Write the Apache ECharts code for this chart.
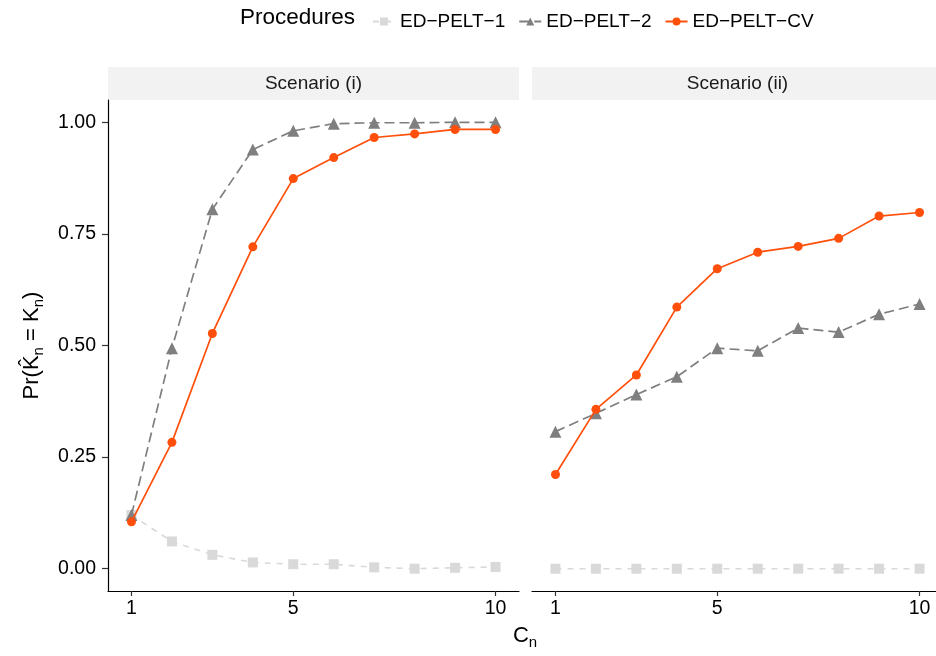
<!DOCTYPE html>
<html>
<head>
<meta charset="utf-8">
<script src="https://cdn.jsdelivr.net/npm/echarts@6/dist/echarts.min.js"></script>
<style>html,body{margin:0;padding:0;background:#fff;}#c{width:936px;height:656px;}</style>
</head>
<body>
<div id="c"></div>
<script>
const xValues = [1, 2, 3, 4, 5, 6, 7, 8, 9, 10];
const xTicks = [1, 5, 10];
const yTicks = [0, 0.25, 0.5, 0.75, 1];
const panels = ['Scenario (i)', 'Scenario (ii)'];
const seriesNames = ['ED\u2212PELT\u22121', 'ED\u2212PELT\u22122', 'ED\u2212PELT\u2212CV'];

const pelt1_i  = [0.120, 0.061, 0.031, 0.014, 0.010, 0.010, 0.003, 0.000, 0.002, 0.004];
const pelt2_i  = [0.120, 0.494, 0.805, 0.939, 0.981, 0.997, 0.999, 0.999, 1.000, 1.000];
const peltCV_i = [0.105, 0.283, 0.527, 0.721, 0.874, 0.921, 0.966, 0.974, 0.984, 0.984];

const pelt1_ii  = [0.000, 0.000, 0.000, 0.000, 0.000, 0.000, 0.000, 0.000, 0.000, 0.000];
const pelt2_ii  = [0.307, 0.348, 0.390, 0.430, 0.494, 0.488, 0.539, 0.530, 0.570, 0.593];
const peltCV_ii = [0.211, 0.357, 0.434, 0.586, 0.672, 0.709, 0.722, 0.740, 0.790, 0.798];

const FONT = '"Liberation Sans", Arial, Helvetica, sans-serif';
const pair = arr => xValues.map((x, i) => [x, arr[i]]);

const gridLeft = [108, 532];
const gridW = 411, gridTop = 100, gridH = 491;

const styles = [
  {name: seriesNames[0], color: '#d9d9d9', symbol: 'rect', size: 10, type: [6, 6], width: 1.6},
  {name: seriesNames[1], color: '#7f7f7f', symbol: 'triangle', size: 12, type: [10, 5], width: 1.7},
  {name: seriesNames[2], color: '#ff4f0a', symbol: 'circle', size: 9, type: 'solid', width: 1.7}
];
const panelData = [[pelt1_i, pelt2_i, peltCV_i], [pelt1_ii, pelt2_ii, peltCV_ii]];

const series = [];
[0, 1].forEach(p => {
  [1, 0, 2].forEach(k => {
    const s = styles[k];
    series.push({
      type: 'line', name: s.name, xAxisIndex: p, yAxisIndex: p,
      data: pair(panelData[p][k]),
      symbol: s.symbol, symbolSize: s.size, showSymbol: true,
      itemStyle: {color: s.color},
      lineStyle: {color: s.color, width: s.width, type: s.type},
      z: k + 2, animation: false
    });
  });
});

const xAxes = [0, 1].map(p => ({
  type: 'value', gridIndex: p, min: 0.42, max: 10.58,
  splitLine: {show: false},
  axisLine: {show: true, onZero: false, lineStyle: {color: '#000', width: 1.2}},
  axisTick: {show: true, length: 5, customValues: xTicks, lineStyle: {color: '#333', width: 1.2}},
  axisLabel: {customValues: xTicks, color: '#000', fontSize: 19.5, fontFamily: FONT, margin: 8}
}));

const yAxes = [0, 1].map(p => ({
  type: 'value', gridIndex: p, min: -0.05, max: 1.05,
  splitLine: {show: false},
  axisLine: {show: p === 0, onZero: false, lineStyle: {color: '#000', width: 1.2}},
  axisTick: {show: p === 0, length: 6, customValues: yTicks, lineStyle: {color: '#333', width: 1.2}},
  axisLabel: {show: p === 0, customValues: yTicks, color: '#000', fontSize: 19.5, fontFamily: FONT, margin: 12,
    formatter: v => v.toFixed(2)},
  name: p === 0 ? '{t|Pr(K\u0302}{s|n}{t| = K}{s|n}{t|)}' : '',
  nameLocation: 'middle', nameRotate: 90, nameGap: 62,
  nameTextStyle: {rich: {
    t: {fontSize: 22, fontFamily: FONT, color: '#000', lineHeight: 28, verticalAlign: 'middle'},
    s: {fontSize: 15, fontFamily: FONT, color: '#000', lineHeight: 28, verticalAlign: 'bottom', padding: [7, 0, 0, 0]}
  }}
}));

const graphics = [];
[0, 1].forEach(p => {
  graphics.push({type: 'rect', left: gridLeft[p], top: 67, shape: {width: gridW, height: 33},
    style: {fill: '#f2f2f2'}, z: 0});
  graphics.push({type: 'text', x: gridLeft[p] + gridW / 2, y: 84,
    style: {text: panels[p], font: '19px ' + FONT, fill: '#1a1a1a', textAlign: 'center', textVerticalAlign: 'middle'}});
});
graphics.push({type: 'text', x: 525, y: 636,
  style: {text: '{t|C}{s|n}', textAlign: 'center', textVerticalAlign: 'middle',
    rich: {t: {fontSize: 22, fontFamily: FONT, fill: '#000', lineHeight: 28, verticalAlign: 'middle'},
           s: {fontSize: 15, fontFamily: FONT, fill: '#000', lineHeight: 28, verticalAlign: 'bottom', padding: [7, 0, 0, 0]}}}});
graphics.push({type: 'text', x: 240, y: 18,
  style: {text: 'Procedures', font: '22.5px ' + FONT, fill: '#000', textVerticalAlign: 'middle'}});

const chart = echarts.init(document.getElementById('c'), null, {renderer: 'canvas'});
chart.setOption({
  animation: false,
  backgroundColor: '#fff',
  grid: [0, 1].map(p => ({left: gridLeft[p], top: gridTop, width: gridW, height: gridH,
    containLabel: false, outerBoundsMode: 'none'})),
  xAxis: xAxes,
  yAxis: yAxes,
  legend: {
    data: seriesNames, left: 367, top: 7, itemWidth: 22, itemHeight: 10, itemGap: 13,
    textStyle: {fontSize: 19, fontFamily: FONT, color: '#000'}
  },
  graphic: graphics,
  series: series
});
</script>
</body>
</html>
